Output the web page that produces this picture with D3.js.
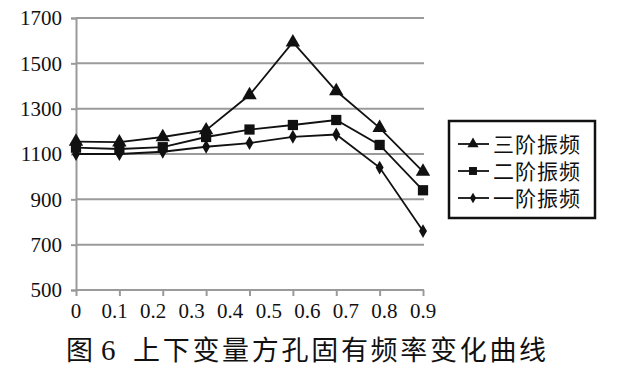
<!DOCTYPE html>
<html lang="zh">
<head>
<meta charset="utf-8">
<title>上下变量方孔固有频率变化曲线</title>
<script src="https://cdn.jsdelivr.net/npm/d3@7"></script>
<style>
  body { margin: 0; background: #fff; }
  .tick text { font-family: "Liberation Serif", serif; fill: #111; }
</style>
</head>
<body>
<svg id="chart" width="633" height="375"></svg>
<script>
// data
var points = [0, 1, 2, 3, 4, 5, 6, 7, 8];
var xLabels = ["0", "0.1", "0.2", "0.3", "0.4", "0.5", "0.6", "0.7", "0.8", "0.9"];
var yTicks = [500, 700, 900, 1100, 1300, 1500, 1700];
var third = [1155, 1152, 1175, 1205, 1360, 1593, 1378, 1215, 1022];
var second = [1128, 1122, 1130, 1175, 1208, 1228, 1250, 1140, 940];
var first = [1100, 1100, 1110, 1132, 1148, 1176, 1186, 1040, 760];
var seriesNames = ["三阶振频", "二阶振频", "一阶振频"];

var svg = d3.select("#chart");
var pLeft = 76, pRight = 423, pTop = 18, pBottom = 290;

var x = d3.scalePoint().domain(points).range([pLeft, pRight]);
var xl = d3.scaleLinear().domain([0, 0.9]).range([pLeft, pRight]);
var y = d3.scaleLinear().domain([500, 1700]).range([pBottom, pTop]);

// gridlines
svg.append("g").selectAll("line")
  .data(yTicks.slice(1))
  .enter().append("line")
  .attr("x1", pLeft).attr("x2", pRight + 1)
  .attr("y1", function(d){ return y(d); })
  .attr("y2", function(d){ return y(d); })
  .attr("stroke", "#9a9a9a").attr("stroke-width", 2);

// y axis
var ya = svg.append("g").attr("transform", "translate(" + pLeft + ",0)")
  .call(d3.axisLeft(y).tickValues(yTicks).tickSize(5).tickPadding(9).tickFormat(d3.format("d")));
ya.selectAll("path, line").attr("stroke", "#9a9a9a").attr("stroke-width", 2);
ya.selectAll("text").attr("font-size", "21px");

// x axis: tick marks at data points, labels on their own linear spacing
var xa = svg.append("g").attr("transform", "translate(0," + pBottom + ")")
  .call(d3.axisBottom(x).tickSize(6).tickFormat(""));
xa.select("path").attr("stroke", "#9a9a9a").attr("stroke-width", 2).attr("d", "M" + pLeft + ",0H" + (pRight + 1));
xa.selectAll("line").attr("stroke", "#9a9a9a").attr("stroke-width", 2);

svg.append("g").selectAll("text")
  .data(xLabels)
  .enter().append("text")
  .attr("x", function(d){ return xl(+d); })
  .attr("y", pBottom + 28)
  .attr("text-anchor", "middle")
  .attr("font-family", "Liberation Serif, serif")
  .attr("font-size", "21px")
  .attr("fill", "#111")
  .text(function(d){ return d; });

var line = d3.line().x(function(d, i){ return x(i); }).y(function(d){ return y(d); });
var symbols = [d3.symbolTriangle, d3.symbolSquare, d3.symbolDiamond];
var sizes = [90, 105, 55];
var all = [third, second, first];

all.forEach(function(s, k) {
  svg.append("path").datum(s)
    .attr("d", line)
    .attr("fill", "none").attr("stroke", "#111").attr("stroke-width", 1.8);
  svg.append("g").selectAll("path")
    .data(s)
    .enter().append("path")
    .attr("transform", function(d, i){ return "translate(" + x(i) + "," + y(d) + ")"; })
    .attr("d", d3.symbol().type(symbols[k]).size(sizes[k]))
    .attr("fill", "#111");
});

// legend
var lg = svg.append("g");
lg.append("rect").attr("x", 449).attr("y", 121).attr("width", 146).attr("height", 97)
  .attr("fill", "#fff").attr("stroke", "#111").attr("stroke-width", 2.5);
seriesNames.forEach(function(n, k) {
  var yy = 144 + k * 27;
  lg.append("line").attr("x1", 458).attr("x2", 489).attr("y1", yy).attr("y2", yy)
    .attr("stroke", "#111").attr("stroke-width", 1.8);
  lg.append("path").attr("transform", "translate(473," + yy + ")")
    .attr("d", d3.symbol().type(symbols[k]).size(sizes[k] * 0.6))
    .attr("fill", "#111");
  lg.append("text").attr("x", 493).attr("y", yy + 8)
    .attr("font-family", "Noto Sans CJK SC, sans-serif")
    .attr("font-size", "21px").attr("letter-spacing", "1px").attr("fill", "#111")
    .text(n);
});

// caption
var cap = svg.append("text").attr("y", 360).attr("fill", "#111")
  .attr("font-family", "Noto Sans CJK SC, sans-serif").attr("font-size", "27px");
cap.append("tspan").attr("x", 66).text("图");
cap.append("tspan").attr("x", 101).attr("font-family", "Liberation Serif, serif").attr("font-size", "29px").text("6");
cap.append("tspan").attr("x", 133).attr("letter-spacing", "2.7px").text("上下变量方孔固有频率变化曲线");
</script>
</body>
</html>
